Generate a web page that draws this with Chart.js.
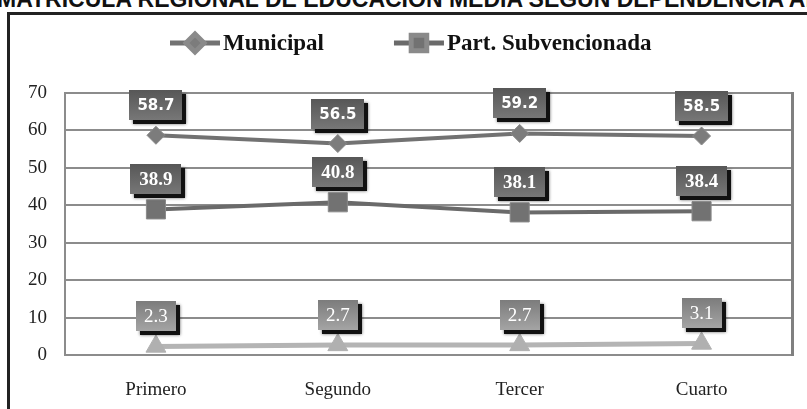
<!DOCTYPE html>
<html>
<head>
<meta charset="utf-8">
<script src="https://cdn.jsdelivr.net/npm/chart.js@4.4.0/dist/chart.umd.min.js"></script>
<style>
  html, body { margin: 0; padding: 0; background: #fff; overflow: hidden; }
  body { width: 807px; height: 409px; position: relative; }
  .title { position: absolute; left: -3px; top: -12px; font: bold 23px "Liberation Sans", Arial, sans-serif; line-height: 23px; white-space: nowrap; color: #111; }
  .frame { position: absolute; left: 7px; top: 12px; width: 900px; height: 500px; border: 3px solid #222; }
  canvas { position: absolute; left: 0; top: 0; }
</style>
</head>
<body>
<div class="title">MATRICULA REGIONAL DE EDUCACION MEDIA SEGUN DEPENDENCIA ADMINISTRATIVA</div>
<div class="frame"></div>
<canvas id="myChart" width="807" height="409"></canvas>
<script>
const categories = ['Primero', 'Segundo', 'Tercer', 'Cuarto'];
const municipal = [58.7, 56.5, 59.2, 58.5];
const subvencionada = [38.9, 40.8, 38.1, 38.4];
const pagado = [2.3, 2.7, 2.7, 3.1];
const yTicks = [0, 10, 20, 30, 40, 50, 60, 70];
const legendNames = ['Municipal', 'Part. Subvencionada'];

// grey value boxes with a black drop shadow above every point
const valueBoxes = {
  id: 'valueBoxes',
  afterDatasetsDraw(chart) {
    const ctx = chart.ctx;
    chart.data.datasets.forEach((ds, i) => {
      const meta = chart.getDatasetMeta(i);
      const st = ds.boxStyle;
      meta.data.forEach((pt, j) => {
        ctx.save();
        ctx.font = st.font;
        const text = ds.data[j].toFixed(1);
        const w = Math.round(ctx.measureText(text).width) + st.pad * 2;
        const h = 30;
        const x = Math.round(pt.x - w / 2);
        const y = Math.round(pt.y - 15 - h);
        ctx.shadowColor = 'rgba(0,0,0,0.6)';
        ctx.shadowBlur = 3;
        ctx.fillStyle = '#111';
        ctx.fillRect(x + 4, y + 4, w, h);
        ctx.shadowColor = 'transparent';
        const g = ctx.createLinearGradient(0, y, 0, y + h);
        g.addColorStop(0, st.top);
        g.addColorStop(1, st.bottom);
        ctx.fillStyle = g;
        ctx.fillRect(x, y, w, h);
        ctx.fillStyle = '#fff';
        ctx.textAlign = 'center';
        ctx.textBaseline = 'middle';
        ctx.fillText(text, pt.x, y + h / 2 + 1);
        ctx.restore();
      });
    });
  }
};

// right edge of the plot + the legend at the top
const frameAndLegend = {
  id: 'frameAndLegend',
  beforeDatasetsDraw(chart) {
    const { ctx, chartArea } = chart;
    ctx.save();
    ctx.strokeStyle = '#808080';
    ctx.lineWidth = 3;
    ctx.beginPath();
    ctx.moveTo(chartArea.right, chartArea.top - 1);
    ctx.lineTo(chartArea.right, chartArea.bottom + 1);
    ctx.stroke();
    ctx.restore();
  },
  afterDraw(chart) {
    const ctx = chart.ctx;
    let x = 170;
    const y = 43;
    ctx.save();
    ctx.font = 'bold 23px "Liberation Serif", "Times New Roman", serif';
    ctx.textBaseline = 'middle';
    legendNames.forEach((name, i) => {
      const ds = chart.data.datasets[i];
      ctx.strokeStyle = ds.borderColor;
      ctx.lineWidth = 5;
      ctx.beginPath();
      ctx.moveTo(x, y);
      ctx.lineTo(x + 50, y);
      ctx.stroke();
      ctx.fillStyle = ds.pointBackgroundColor;
      ctx.strokeStyle = ds.pointBorderColor;
      Chart.helpers.drawPoint(ctx, {
        pointStyle: ds.pointStyle,
        radius: ds.legendRadius,
        rotation: 0,
        borderWidth: 1
      }, x + 25, y);
      ctx.fillStyle = '#111';
      ctx.fillText(name, x + 53, y + 1);
      x += 53 + ctx.measureText(name).width + 70;
    });
    ctx.restore();
  }
};

new Chart(document.getElementById('myChart').getContext('2d'), {
  type: 'line',
  data: {
    labels: categories,
    datasets: [
      {
        label: 'Municipal',
        data: municipal,
        borderColor: '#727272',
        borderWidth: 4,
        pointStyle: 'rectRot',
        pointRadius: 9,
        legendRadius: 9,
        pointBackgroundColor: '#7c7c7c',
        pointBorderColor: '#8a8a8a',
        pointBorderWidth: 1,
        tension: 0,
        boxStyle: { font: 'bold 15px "DejaVu Sans", Verdana, sans-serif', pad: 8, top: '#575757', bottom: '#777777' }
      },
      {
        label: 'Part. Subvencionada',
        data: subvencionada,
        borderColor: '#6a6a6a',
        borderWidth: 4,
        pointStyle: 'rect',
        pointRadius: 13.5,
        legendRadius: 11,
        pointBackgroundColor: '#727272',
        pointBorderColor: '#8a8a8a',
        pointBorderWidth: 1,
        tension: 0,
        boxStyle: { font: 'bold 19px "Liberation Serif", "Times New Roman", serif', pad: 9, top: '#575757', bottom: '#777777' }
      },
      {
        label: 'Part. Pagada',
        data: pagado,
        borderColor: '#b4b4b4',
        borderWidth: 5,
        pointStyle: 'triangle',
        pointRadius: 11.5,
        legendRadius: 10,
        pointBackgroundColor: '#b0b0b0',
        pointBorderColor: '#b0b0b0',
        pointBorderWidth: 1,
        tension: 0,
        boxStyle: { font: '19px "Liberation Serif", "Times New Roman", serif', pad: 8, top: '#7c7c7c', bottom: '#a4a4a4' }
      }
    ]
  },
  options: {
    responsive: false,
    animation: false,
    layout: { padding: { top: 93, right: 12, left: 0, bottom: 0 } },
    plugins: {
      legend: { display: false },
      title: { display: false },
      tooltip: { enabled: false }
    },
    scales: {
      x: {
        offset: true,
        grid: { display: false, drawTicks: false },
        border: { display: true, color: '#8c8c8c', width: 2 },
        ticks: {
          padding: 24,
          color: '#222',
          font: { family: 'Liberation Serif', size: 19 }
        },
        afterFit(scale) { scale.height = 54; }
      },
      y: {
        min: yTicks[0],
        max: yTicks[yTicks.length - 1],
        afterBuildTicks(scale) { scale.ticks = yTicks.map(v => ({ value: v })); },
        grid: { color: '#8c8c8c', lineWidth: 2, drawTicks: false },
        border: { display: true, color: '#8c8c8c', width: 2 },
        ticks: {
          padding: 18,
          color: '#222',
          font: { family: 'Liberation Serif', size: 19 }
        },
        afterFit(scale) { scale.width = 65; }
      }
    }
  },
  plugins: [frameAndLegend, valueBoxes]
});
</script>
</body>
</html>
